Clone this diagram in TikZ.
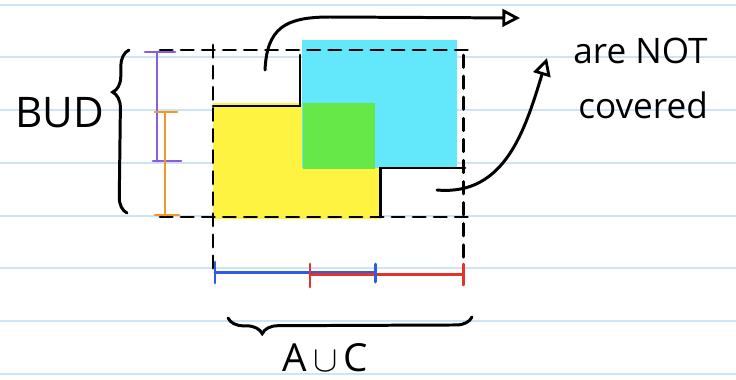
\documentclass[tikz,border=0pt]{standalone}
\usepackage{fontspec}
\setmainfont{Open Sans}
\usepackage{tikz}
\usetikzlibrary{arrows.meta,decorations.pathreplacing}
\definecolor{ruleblue}{RGB}{206,228,246}
\definecolor{hiyellow}{RGB}{255,243,66}
\definecolor{hicyan}{RGB}{98,232,250}
\definecolor{higreen}{RGB}{102,232,72}
\definecolor{penpurple}{RGB}{140,92,222}
\definecolor{penorange}{RGB}{240,152,44}
\definecolor{penblue}{RGB}{44,92,230}
\definecolor{penred}{RGB}{226,52,42}
\tikzset{
  ink/.style={line width=1.7pt, line cap=round},
  dashink/.style={ink, dash pattern=on 7pt off 5pt},
  hand/.style={font=\fontsize{20}{24}\selectfont, inner sep=0pt},
  tip/.style={-{Triangle[open, length=10pt, width=10pt, line width=1.6pt]}},
}

\begin{document}
\begin{tikzpicture}[x=0.02cm, y=-0.02cm]
      \useasboundingbox (0,0) rectangle (736,379);
      % notebook lines
      \foreach \y in {5,57,110,163,216,268,321,374}
        \draw[ruleblue, line width=1.2pt] (0,\y) -- (736,\y);

      % the two sets and their overlap
      \fill[hiyellow] (213,103) rectangle (380,219);
      \fill[hicyan] (302,40) rectangle (457,168);
      \fill[higreen] (303,103) rectangle (375,169);

      % bounding box of the union
      \draw[dashink] (160,50) -- (470,50);
      \draw[dashink] (160,217) -- (475,217);
      \draw[dashink] (213,45) -- (213,272);
      \draw[dashink] (463,55) -- (463,272);

      % edges of the union
      \draw[ink] (213,106) -- (300,106) -- (300,55);
      \draw[ink] (380,217) -- (380,168) -- (465,168);

      % projections on the vertical axis
      \draw[ink, penpurple] (157,52) -- (157,161);
      \draw[ink, penpurple] (145,52) -- (175,52);
      \draw[ink, penpurple] (153,161) -- (181,161);
      \draw[ink, penorange] (165,112) -- (165,215);
      \draw[ink, penorange] (155,112) -- (177,112);
      \draw[ink, penorange] (155,215) -- (179,215);
      \draw[ink, decorate, decoration={brace, amplitude=9pt, aspect=0.74}]
        (127,213) -- (129,50);
      \node[hand, font=\fontsize{24}{28}\selectfont, anchor=base west] (bud) at (15,127) {BUD};

      % projections on the horizontal axis
      \draw[ink, penblue] (215,272) -- (375,272);
      \draw[ink, penred] (310,274) -- (463,274);
      \draw[ink, penblue] (215,262) -- (215,283);
      \draw[ink, penblue] (375,264) -- (375,282);
      \draw[ink, penred] (310,264) -- (310,287);
      \draw[ink, penred] (463,264) -- (463,285);
      \draw[ink, decorate, decoration={brace, amplitude=9pt, aspect=0.86}]
        (472,317) -- (228,318);
      \node[hand, font=\fontsize{22}{26}\selectfont, anchor=base west] (auc) at (282,371) {A\,$\cup$\,C};

      % corners that are not covered
      \node[hand, anchor=base west] (arenot) at (573,63) {are NOT};
      \node[hand, anchor=base west] (covered) at (578,118) {covered};
      \coordinate (gapA) at (265,70);
      \coordinate (gapAend) at (520,18);
      \coordinate (gapB) at (437,190);
      \coordinate (gapBend) at (547,58);
      \draw[ink, tip] (gapA) .. controls (267,28) and (285,17) .. (330,17) -- (gapAend);
      \draw[ink, tip] (gapB) .. controls (505,196) and (525,130) .. (gapBend);
    \end{tikzpicture}
\end{document}
